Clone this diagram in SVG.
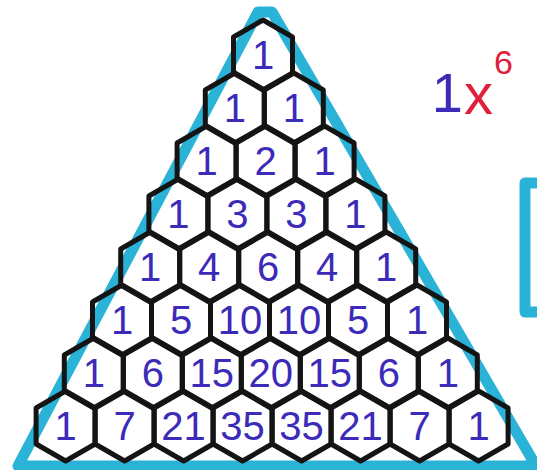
<svg xmlns="http://www.w3.org/2000/svg" xmlns:xlink="http://www.w3.org/1999/xlink" width="537" height="470" viewBox="0 0 537 470">
<style>
.cyan{fill:none;stroke:#2ab3d6;stroke-width:11;stroke-linejoin:round;stroke-linecap:round}
.hex{fill:none;stroke:#141414;stroke-width:5;stroke-linejoin:round}
.num{font-family:"Liberation Sans",Arial,sans-serif;font-size:40px;fill:#3b2bb8;text-anchor:middle}
.red{font-family:"Liberation Sans",Arial,sans-serif;fill:#e0203a}
</style>
<defs>
<path id="hex" d="M0,-35 L29.5,-18 L29.5,18 L0,35 L-29.5,18 L-29.5,-18 Z"/>
</defs>
<rect width="537" height="470" fill="#ffffff"/>
<g id="outline">
<path class="cyan" d="M18,466 L258,12 L272,12 L536,466 Z"/>
<path class="cyan" d="M540,183 L525,183 L525,312 L540,312"/>
</g>
<g id="label">
<text x="463" y="112" font-family="Liberation Sans,Arial,sans-serif" font-size="56" fill="#3b2bb8" text-anchor="end">1</text>
<text class="red" x="464" y="114" font-size="58">x</text>
<text class="red" x="494" y="74" font-size="34">6</text>
</g>
<g id="connectors"></g>
<g id="r0-0"><use href="#hex" class="hex" x="263" y="55"/><text class="num" x="263" y="69">1</text></g>
<g id="r1-0"><use href="#hex" class="hex" x="234.8" y="108"/><text class="num" x="234.8" y="122">1</text></g>
<g id="r1-1"><use href="#hex" class="hex" x="293.8" y="108"/><text class="num" x="293.8" y="122">1</text></g>
<g id="r2-0"><use href="#hex" class="hex" x="206.6" y="161"/><text class="num" x="206.6" y="175">1</text></g>
<g id="r2-1"><use href="#hex" class="hex" x="265.6" y="161"/><text class="num" x="265.6" y="175">2</text></g>
<g id="r2-2"><use href="#hex" class="hex" x="324.6" y="161"/><text class="num" x="324.6" y="175">1</text></g>
<g id="r3-0"><use href="#hex" class="hex" x="178.4" y="214"/><text class="num" x="178.4" y="228">1</text></g>
<g id="r3-1"><use href="#hex" class="hex" x="237.4" y="214"/><text class="num" x="237.4" y="228">3</text></g>
<g id="r3-2"><use href="#hex" class="hex" x="296.4" y="214"/><text class="num" x="296.4" y="228">3</text></g>
<g id="r3-3"><use href="#hex" class="hex" x="355.4" y="214"/><text class="num" x="355.4" y="228">1</text></g>
<g id="r4-0"><use href="#hex" class="hex" x="150.2" y="267"/><text class="num" x="150.2" y="281">1</text></g>
<g id="r4-1"><use href="#hex" class="hex" x="209.2" y="267"/><text class="num" x="209.2" y="281">4</text></g>
<g id="r4-2"><use href="#hex" class="hex" x="268.2" y="267"/><text class="num" x="268.2" y="281">6</text></g>
<g id="r4-3"><use href="#hex" class="hex" x="327.2" y="267"/><text class="num" x="327.2" y="281">4</text></g>
<g id="r4-4"><use href="#hex" class="hex" x="386.2" y="267"/><text class="num" x="386.2" y="281">1</text></g>
<g id="r5-0"><use href="#hex" class="hex" x="122" y="320"/><text class="num" x="122" y="334">1</text></g>
<g id="r5-1"><use href="#hex" class="hex" x="181" y="320"/><text class="num" x="181" y="334">5</text></g>
<g id="r5-2"><use href="#hex" class="hex" x="240" y="320"/><text class="num" x="240" y="334">10</text></g>
<g id="r5-3"><use href="#hex" class="hex" x="299" y="320"/><text class="num" x="299" y="334">10</text></g>
<g id="r5-4"><use href="#hex" class="hex" x="358" y="320"/><text class="num" x="358" y="334">5</text></g>
<g id="r5-5"><use href="#hex" class="hex" x="417" y="320"/><text class="num" x="417" y="334">1</text></g>
<g id="r6-0"><use href="#hex" class="hex" x="93.8" y="373"/><text class="num" x="93.8" y="387">1</text></g>
<g id="r6-1"><use href="#hex" class="hex" x="152.8" y="373"/><text class="num" x="152.8" y="387">6</text></g>
<g id="r6-2"><use href="#hex" class="hex" x="211.8" y="373"/><text class="num" x="211.8" y="387">15</text></g>
<g id="r6-3"><use href="#hex" class="hex" x="270.8" y="373"/><text class="num" x="270.8" y="387">20</text></g>
<g id="r6-4"><use href="#hex" class="hex" x="329.8" y="373"/><text class="num" x="329.8" y="387">15</text></g>
<g id="r6-5"><use href="#hex" class="hex" x="388.8" y="373"/><text class="num" x="388.8" y="387">6</text></g>
<g id="r6-6"><use href="#hex" class="hex" x="447.8" y="373"/><text class="num" x="447.8" y="387">1</text></g>
<g id="r7-0"><use href="#hex" class="hex" x="65.6" y="426"/><text class="num" x="65.6" y="440">1</text></g>
<g id="r7-1"><use href="#hex" class="hex" x="124.6" y="426"/><text class="num" x="124.6" y="440">7</text></g>
<g id="r7-2"><use href="#hex" class="hex" x="183.6" y="426"/><text class="num" x="183.6" y="440">21</text></g>
<g id="r7-3"><use href="#hex" class="hex" x="242.6" y="426"/><text class="num" x="242.6" y="440">35</text></g>
<g id="r7-4"><use href="#hex" class="hex" x="301.6" y="426"/><text class="num" x="301.6" y="440">35</text></g>
<g id="r7-5"><use href="#hex" class="hex" x="360.6" y="426"/><text class="num" x="360.6" y="440">21</text></g>
<g id="r7-6"><use href="#hex" class="hex" x="419.6" y="426"/><text class="num" x="419.6" y="440">7</text></g>
<g id="r7-7"><use href="#hex" class="hex" x="478.6" y="426"/><text class="num" x="478.6" y="440">1</text></g>
</svg>
